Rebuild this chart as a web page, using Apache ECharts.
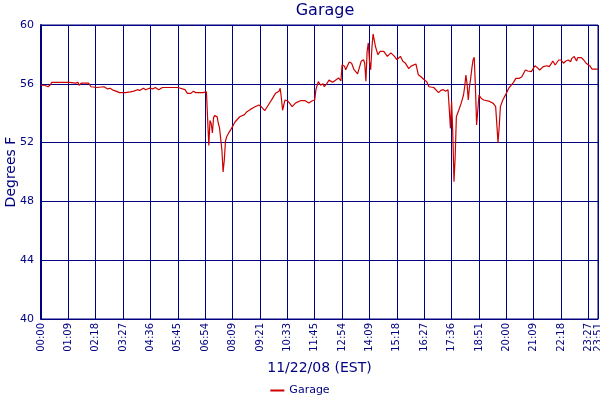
<!DOCTYPE html>
<html>
<head>
<meta charset="utf-8">
<script src="https://cdn.jsdelivr.net/npm/echarts@6/dist/echarts.min.js"></script>
<style>html,body{margin:0;padding:0;background:#fff}#c{width:600px;height:400px}</style>
</head>
<body>
<div id="c"></div>
<script>
// x positions are sample numbers (one reading every ~3 minutes)
const tickIndex = [0,23,46,69,92,115,138,161,184,207,230,253,276,299,322,345,368,391,414,437,460,468];
const tickLabels = ["00:00","01:09","02:18","03:27","04:36","05:45","06:54","08:09","09:21","10:33","11:45","12:54","14:09","15:18","16:27","17:36","18:51","20:00","21:09","22:18","23:27","23:51"];
const sampleIdx = [0,3,6,8,9,16,24,29,31,32,34,40,42,47,53,56,58,61,63,66,71,75,78,81,83,86,88,91,94,96,99,102,108,115,121,123,126,128,130,136,137,139,140,141,142,143,144,145,146,147,148,149,150,151,152,153,154,155,156,158,160,163,167,171,173,176,179,183,185,188,191,194,197,200,201,202,203,205,207,209,211,214,218,222,225,228,230,231,233,235,237,238,240,242,245,248,250,252,253,255,256,259,261,263,266,269,271,272,273,274,275,276,277,278,279,280,281,283,285,286,288,291,294,297,299,302,304,306,309,311,312,315,316,317,319,322,324,326,330,334,336,338,340,342,343,344,345,346,347,348,349,351,353,355,356,357,358,359,360,361,362,363,364,365,366,367,368,370,372,377,380,382,383,384,385,386,388,391,393,395,397,399,402,404,407,409,412,413,415,417,419,420,422,425,427,429,430,432,433,435,437,439,441,443,445,446,448,450,451,454,456,458,461,463,468];
const garageTemp = [55.9,55.9,55.8,55.95,56.1,56.1,56.1,56.05,56.1,55.9,56.05,56.05,55.8,55.75,55.8,55.65,55.7,55.55,55.5,55.4,55.4,55.45,55.5,55.6,55.55,55.7,55.6,55.7,55.65,55.75,55.6,55.75,55.75,55.75,55.6,55.35,55.35,55.5,55.4,55.4,55.5,55.45,55.35,51.8,53.5,53.3,52.65,53.7,53.85,53.8,53.75,53.3,53.0,52.9,51.5,50.0,50.8,52.1,52.4,52.7,52.95,53.4,53.76,53.9,54.1,54.26,54.4,54.56,54.45,54.17,54.56,54.94,55.35,55.5,55.7,55.0,54.2,54.9,54.85,54.67,54.45,54.7,54.85,54.85,54.7,54.85,54.9,55.6,56.15,55.9,56.0,55.8,56.0,56.25,56.1,56.28,56.4,56.2,57.3,57.2,56.96,57.48,57.4,56.96,56.67,57.53,57.64,57.4,56.17,58.2,58.78,57.53,56.96,58.4,59.39,59.35,58.55,57.98,58.2,58.1,58.2,57.87,58.1,57.87,57.64,57.87,57.53,57.42,57.03,57.2,57.3,57.35,57.35,56.62,56.5,56.28,56.15,55.8,55.75,55.4,55.55,55.6,55.5,55.6,54.33,52.97,54.8,52.6,49.34,51.04,53.76,54.2,54.67,55.24,55.8,56.6,56.0,54.9,55.8,56.35,57.05,57.62,57.8,55.8,53.2,54.2,55.24,55.0,54.9,54.8,54.67,54.45,54.33,52.0,53.1,54.45,54.9,55.35,55.7,55.9,56.1,56.37,56.37,56.48,56.94,56.87,56.83,56.71,57.23,57.1,56.94,56.83,57.17,57.23,57.17,57.4,57.55,57.28,57.4,57.62,57.62,57.4,57.55,57.62,57.5,57.73,57.85,57.55,57.78,57.78,57.62,57.4,57.23,57.0,57.0];
const yTicks = [40,44,48,52,56,60];

const navy = '#000080';
const font = 'DejaVu Sans, Verdana, sans-serif';
const lastIdx = tickIndex[tickIndex.length - 1];
function tickFmt(v) {
  const i = tickIndex.indexOf(Math.round(v));
  return i >= 0 ? tickLabels[i] : '';
}
const xBase = {
  type: 'value', min: tickIndex[0], max: lastIdx, interval: tickIndex[1] - tickIndex[0],
  gridIndex: 0, position: 'bottom'
};
const chart = echarts.init(document.getElementById('c'), null, {renderer: 'canvas'});
chart.setOption({
  animation: false,
  backgroundColor: '#fff',
  textStyle: {fontFamily: font},
  title: {
    text: 'Garage', left: 320, top: -2, textAlign: 'center',
    textStyle: {color: navy, fontSize: 16, fontWeight: 'normal', fontFamily: font}
  },
  legend: {
    bottom: -1, left: 'center', icon: 'rect', itemWidth: 14, itemHeight: 2, itemGap: 4,
    textStyle: {color: navy, fontSize: 11, fontFamily: font},
    data: ['Garage']
  },
  grid: {left: 41, right: 2, top: 25, bottom: 81, show: true, borderColor: navy, borderWidth: 1,
         containLabel: false, outerBoundsMode: 'none'},
  xAxis: [Object.assign({}, xBase, {
    name: '11/22/08 (EST)', nameLocation: 'middle', nameGap: 42,
    nameTextStyle: {color: navy, fontSize: 14, fontFamily: font},
    axisLine: {show: true, lineStyle: {color: navy, width: 1}},
    axisTick: {show: false},
    splitLine: {show: true, lineStyle: {color: navy, width: 1}},
    axisLabel: {
      rotate: 90, fontSize: 10, color: navy, margin: 4, fontFamily: font,
      showMinLabel: true, showMaxLabel: false, hideOverlap: false,
      formatter: function (v) { return v === lastIdx ? '' : tickFmt(v); }
    }
  }), Object.assign({}, xBase, {
    axisLine: {show: false}, axisTick: {show: false}, splitLine: {show: false},
    axisLabel: {
      rotate: 90, fontSize: 10, color: navy, margin: 4, fontFamily: font,
      showMinLabel: false, showMaxLabel: true, hideOverlap: false,
      formatter: function (v) { return v === lastIdx ? tickFmt(v) : ''; }
    }
  })],
  yAxis: {
    type: 'value', min: yTicks[0], max: yTicks[yTicks.length - 1], interval: 4,
    name: 'Degrees F', nameLocation: 'middle', nameGap: 23, nameRotate: 90,
    nameMoveOverlap: false,
    nameTextStyle: {color: navy, fontSize: 14, fontFamily: font},
    axisLine: {show: true, lineStyle: {color: navy, width: 2}},
    axisTick: {show: false},
    splitLine: {show: true, lineStyle: {color: navy, width: 1}},
    axisLabel: {fontSize: 11, color: navy, margin: 7, fontFamily: font}
  },
  series: [{
    name: 'Garage', type: 'line', showSymbol: false, symbol: 'none', xAxisIndex: 0,
    color: '#cc0000',
    lineStyle: {color: '#cc0000', width: 1.2},
    data: sampleIdx.map((x, i) => [x, garageTemp[i]])
  }]
});
</script>
</body>
</html>
